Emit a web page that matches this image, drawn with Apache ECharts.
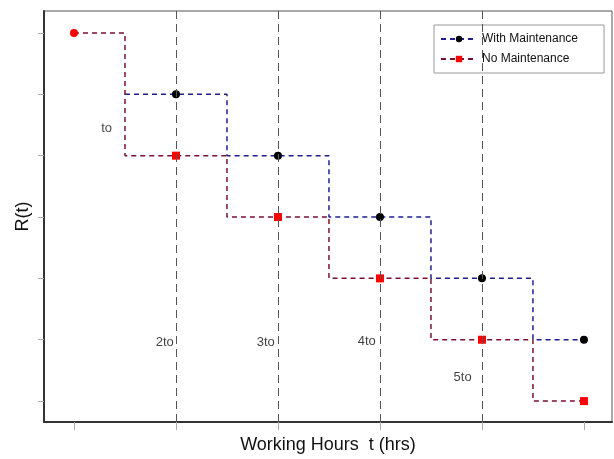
<!DOCTYPE html>
<html>
<head>
<meta charset="utf-8">
<script src="https://cdn.jsdelivr.net/npm/echarts@6/dist/echarts.min.js"></script>
<style>
  html, body { margin: 0; padding: 0; background: #fff; }
  #chart { width: 614px; height: 459px; }
</style>
</head>
<body>
<div id="chart"></div>
<script>
// tick positions (no labels shown in the original)
const xTicks = [0, 1, 2, 3, 4, 5]
const yTicks = [0.4, 0.5, 0.6, 0.7, 0.8, 0.9, 1.0]

// No Maintenance
const noMaintT = [0, 1, 2, 3, 4, 5]
const noMaintR = [1.0, 0.8, 0.7, 0.6, 0.5, 0.4]

// With Maintenance (line starts half a step before first point)
const withMaintT = [0.5, 1, 2, 3, 4, 5]
const withMaintR = [0.9, 0.9, 0.8, 0.7, 0.6, 0.5]

// vertical guides at multiples of to
const guideT = [1, 2, 3, 4]

// annotations
const annoT = [0.32, 0.89, 1.88, 2.87, 3.81]
const annoR = [0.844, 0.495, 0.495, 0.497, 0.439]
const annoText = ['to', '2to', '3to', '4to', '5to']

const font = '"Liberation Sans", Arial, sans-serif'

const withData = withMaintT.map((t, i) =>
  i === 0 ? { value: [t, withMaintR[i]], symbol: 'none' } : [t, withMaintR[i]])
const noData = noMaintT.map((t, i) =>
  i === 0 ? { value: [t, noMaintR[i]], symbol: 'circle', symbolSize: 8 } : [t, noMaintR[i]])

const chart = echarts.init(document.getElementById('chart'))
chart.setOption({
  animation: false,
  grid: {
    left: 44, right: 2, top: 11, bottom: 36,
    show: true, borderColor: '#555', borderWidth: 1
  },
  legend: {
    orient: 'vertical',
    left: 434, top: 25,
    padding: [8, 26, 8, 6],
    itemGap: 8,
    itemWidth: 36, itemHeight: 8,
    backgroundColor: '#fff',
    borderColor: '#999', borderWidth: 1,
    textStyle: { fontFamily: font, fontSize: 12, color: '#111' },
    data: ['With Maintenance', 'No Maintenance']
  },
  xAxis: {
    type: 'value',
    min: -0.294, max: 5.275,
    name: 'Working Hours  t (hrs)',
    nameLocation: 'middle',
    nameGap: 14,
    nameTextStyle: { fontFamily: font, fontSize: 18, color: '#111' },
    axisLine: { show: true, onZero: false, lineStyle: { color: '#333', width: 2 } },
    axisTick: { show: true, length: 8, customValues: xTicks, lineStyle: { color: '#aab' } },
    axisLabel: { show: false },
    splitLine: { show: false }
  },
  yAxis: {
    type: 'value',
    min: 0.3659, max: 1.0358,
    name: 'R(t)',
    nameLocation: 'middle',
    nameGap: 12,
    nameTextStyle: { fontFamily: font, fontSize: 18, color: '#111' },
    axisLine: { show: true, onZero: false, lineStyle: { color: '#333', width: 2 } },
    axisTick: { show: true, length: 6, customValues: yTicks, lineStyle: { color: '#aab' } },
    axisLabel: { show: false },
    splitLine: { show: false }
  },
  series: [
    {
      name: 'With Maintenance',
      type: 'line',
      step: 'middle',
      data: withData,
      symbol: 'circle',
      symbolSize: 8,
      itemStyle: { color: '#000' },
      lineStyle: { color: '#1f1f8f', width: 1.5, type: [5, 4] },
      z: 3,
      markLine: {
        silent: true,
        symbol: 'none',
        label: { show: false },
        lineStyle: { color: '#555', width: 1, type: [8, 5] },
        data: guideT.map(t => ({ xAxis: t }))
      }
    },
    {
      name: 'No Maintenance',
      type: 'line',
      step: 'middle',
      data: noData,
      symbol: 'rect',
      symbolSize: 8,
      itemStyle: { color: '#ff0000' },
      lineStyle: { color: '#7a1030', width: 1.5, type: [5, 4] },
      z: 4
    },
    {
      type: 'scatter',
      symbol: 'circle',
      symbolSize: 2,
      silent: true,
      itemStyle: { color: 'rgba(0,0,0,0)' },
      data: annoT.map((t, i) => [t, annoR[i], annoText[i]]),
      label: {
        show: true,
        position: 'inside',
        formatter: p => p.value[2],
        fontFamily: font,
        fontSize: 13,
        color: '#111'
      }
    }
  ]
})
</script>
</body>
</html>
